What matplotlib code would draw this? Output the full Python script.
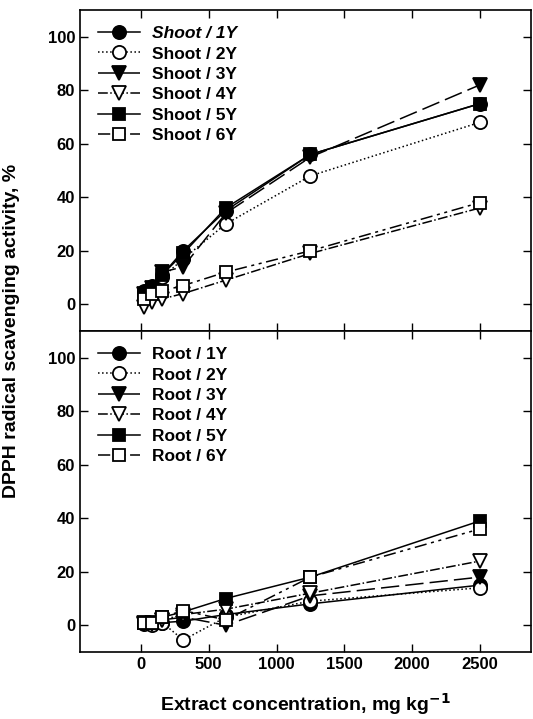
import numpy as np
import matplotlib
matplotlib.use('Agg')
import matplotlib.pyplot as plt

# DPPH scavenging activity of shoot and root extracts, by plant age
conc = [20, 78, 156, 312, 625, 1250, 2500]
ages = ['1Y', '2Y', '3Y', '4Y', '5Y', '6Y']

shoot_1y = [5, 7, 11, 20, 35, 56, 75]
shoot_2y = [3, 5, 10, 17, 30, 48, 68]
shoot_3y = [4, 6, 12, 14, 34, 55, 82]
shoot_4y = [-1, 1, 2, 4, 9, 19, 36]
shoot_5y = [4, 6, 11, 19, 36, 56, 75]
shoot_6y = [2, 4, 5, 7, 12, 20, 38]

root_1y = [1, 0.5, 1, 1.5, 4, 8, 15]
root_2y = [0.5, 0, 1, -5.5, 3, 9, 14]
root_3y = [1, 0.5, 2, 3, 0, 11, 18]
root_4y = [0.5, 1, 2, 4, 6, 12, 24]
root_5y = [1, 1, 3, 5, 10, 18, 39]
root_6y = [1, 1, 3, 5.5, 2, 18, 36]

shoot = [shoot_1y, shoot_2y, shoot_3y, shoot_4y, shoot_5y, shoot_6y]
root = [root_1y, root_2y, root_3y, root_4y, root_5y, root_6y]

plt.rcParams['font.family'] = ['Liberation Sans', 'DejaVu Sans']
plt.rcParams['font.weight'] = 'bold'

styles = [
    dict(marker='o', ms=9.5, mfc='black', ls='-'),
    dict(marker='o', ms=9.5, mfc='white', ls=':'),
    dict(marker='v', ms=9.5, mfc='black', ls=(0, (12, 4))),
    dict(marker='v', ms=9.5, mfc='white', ls='-.'),
    dict(marker='s', ms=8.5, mfc='black', ls='-'),
    dict(marker='s', ms=8.5, mfc='white', ls=(0, (8, 3, 2, 3, 2, 3))),
]

fig = plt.figure(figsize=(5.33, 7.19), dpi=100)
left, right = 80 / 533, 0.997
ax1 = fig.add_axes([left, 1 - 331 / 719, right - left, 321 / 719])
ax2 = fig.add_axes([left, 1 - 652 / 719, right - left, 321 / 719])

for ax, data, name in [(ax1, shoot, 'Shoot'), (ax2, root, 'Root')]:
    for i, (vals, st) in enumerate(zip(data, styles)):
        ax.plot(conc, vals, color='black', lw=1.1, mec='black', mew=1.3,
                label='%s / %s' % (name, ages[i]), **st)
    ax.set_xlim(-450, 2880)
    ax.set_ylim(-10, 110)
    ax.set_yticks([0, 20, 40, 60, 80, 100])
    ax.set_xticks([0, 500, 1000, 1500, 2000, 2500])
    ax.tick_params(direction='in', top=True, right=True, length=6,
                   width=1, labelsize=12)
    for s in ax.spines.values():
        s.set_linewidth(1.2)
    leg = ax.legend(loc='upper left', frameon=False, fontsize=12.5,
                    handlelength=2.4, handletextpad=0.7, labelspacing=0.3,
                    borderaxespad=0, borderpad=0,
                    bbox_to_anchor=(0.04, 0.95))
    for t in leg.get_texts():
        t.set_fontweight('bold')

ax1.tick_params(labelbottom=False)
ax1.get_legend().get_texts()[0].set_fontstyle('italic')

ax2.set_xlabel('Extract concentration, mg kg$^{\\mathbf{-1}}$', fontsize=14,
               fontweight='bold', labelpad=14)
fig.text(12 / 533, 1 - 331 / 719, 'DPPH radical scavenging activity, %',
         rotation=90, ha='center', va='center', fontsize=14, fontweight='bold')

fig.savefig('out.png', dpi=100)
